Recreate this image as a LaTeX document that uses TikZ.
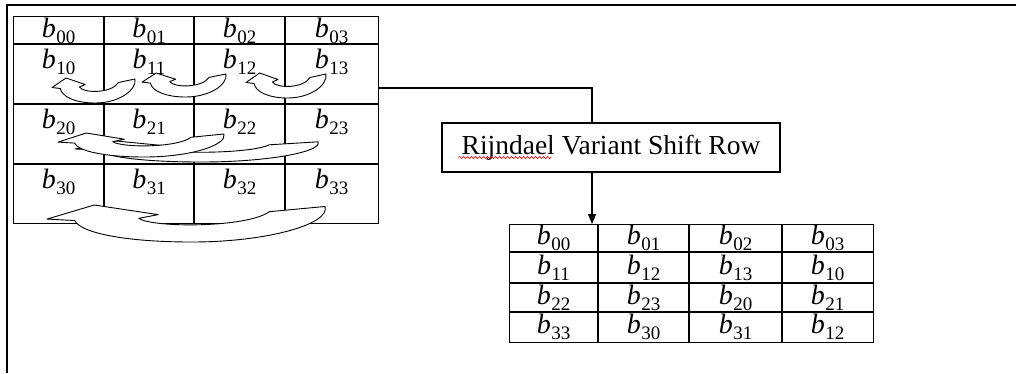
\documentclass[tikz,border=0pt]{standalone}
\usepackage{fontspec}
\setmainfont{Liberation Serif}
\usetikzlibrary{arrows.meta,decorations.pathmorphing,calc}
\newcommand{\bsub}[1]{\textit{b}\kern0.5pt\raisebox{-6pt}{\fontsize{19}{20}\selectfont #1}}
\tikzset{
  tablegrid/.style={line width=1.2pt},
  cell/.style={inner sep=0pt, font=\fontsize{28}{30}\selectfont},
  band/.style={draw=black, fill=white, line width=0.9pt, line join=round},
  conn/.style={line width=1.2pt},
  frameline/.style={line width=1.8pt},
}
\newcommand{\curvarr}[4]{%
  \begin{scope}[shift={(#1,#2)}, xscale={#3-#1}, yscale={#4-#2}]
    \filldraw[band] (0,0.38) -- (0.17,0) -- (0.4,0.26) -- (0.33,0.36)
      .. controls (0.38,0.62) and (0.72,0.62) .. (0.8,0.18) -- (1,0.04)
      .. controls (1.02,0.5) and (0.8,1) .. (0.52,1)
      .. controls (0.28,1) and (0.12,0.75) .. (0.1,0.42) -- cycle;
  \end{scope}}
\begin{document}
\begin{tikzpicture}[x=1pt,y=-1pt]
\useasboundingbox (0,0) rectangle (1016,373);
% outer frame (only top and left visible)
\coordinate (f1) at (7,373);
\coordinate (f2) at (7,5);
\coordinate (f3) at (1016,5);
\draw[frameline] (f1) -- (f2) -- (f3);

% left table
\node[draw, tablegrid, minimum width=365pt, minimum height=207pt, inner sep=0pt, anchor=north west] (LT) at (13,16) {};
\foreach \x in {104,194,285} \draw[tablegrid] (\x,16) -- (\x,223);
\foreach \y in {44,104,164} \draw[tablegrid] (13,\y) -- (378,\y);

% curved arrows
\curvarr{52}{78}{135}{103}
\curvarr{142}{73}{226}{97}
\curvarr{246}{73}{326}{98}
\curvarr{75}{141}{318}{162}
\curvarr{58}{133}{224}{157}
\curvarr{47}{205}{325}{242}

% left labels
\foreach \c/\x in {0/58.5,1/149,2/239.5,3/331.5}
  \foreach \r/\y in {0/31,1/62,2/122,3/182}
    \node[cell] (l\r\c) at (\x,\y) {\bsub{\r\c}};

% process box
\node[draw, conn, minimum width=338pt, minimum height=49pt, inner sep=0pt,
      font=\fontsize{27.5}{30}\selectfont] (RB) at (611,147.5) {Rijndael Variant Shift Row};
\draw[red, line width=0.6pt, decorate, decoration={snake, amplitude=1.1pt, segment length=4pt}]
  ($(RB.west)+(17,10)$) -- ($(RB.west)+(110,10)$);

% right table
\node[draw, tablegrid, minimum width=364pt, minimum height=118pt, inner sep=0pt, anchor=north west] (RT) at (509,224) {};
\foreach \x in {598,689,782} \draw[tablegrid] (\x,224) -- (\x,342);
\foreach \y in {252,283,312} \draw[tablegrid] (509,\y) -- (873,\y);
\foreach \r/\y/\a/\b/\cc/\d in {0/238/00/01/02/03, 1/267.5/11/12/13/10, 2/297.5/22/23/20/21, 3/327/33/30/31/12}{
  \node[cell] (r\r0) at (553.5,\y) {\bsub{\a}};
  \node[cell] (r\r1) at (643.5,\y) {\bsub{\b}};
  \node[cell] (r\r2) at (735.5,\y) {\bsub{\cc}};
  \node[cell] (r\r3) at (827.5,\y) {\bsub{\d}};
}

% connectors
\coordinate (bend) at (592,88);
\draw[conn] (LT.east |- bend) -- (bend) -- (bend |- RB.north);
\draw[conn, -{Triangle[length=10pt,width=8pt]}] (bend |- RB.south) -- (bend |- RT.north);
\end{tikzpicture}
\end{document}
